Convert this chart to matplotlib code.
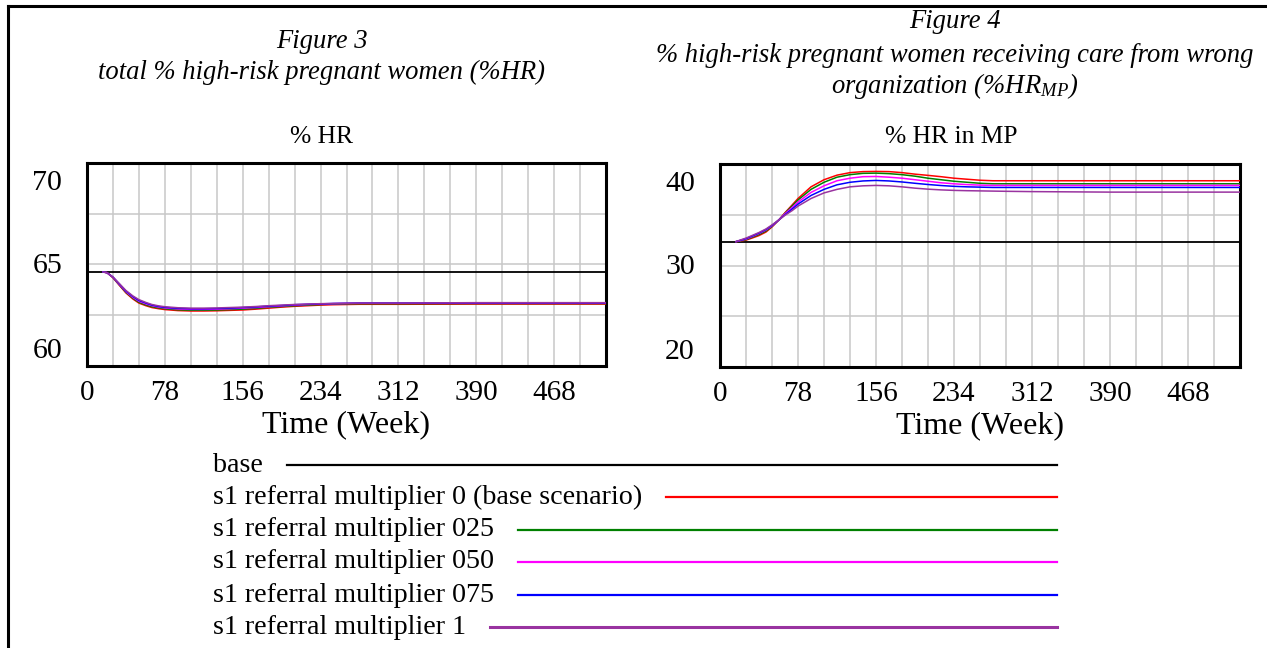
import matplotlib
matplotlib.use("Agg")
import matplotlib.pyplot as plt
from matplotlib.lines import Line2D
from matplotlib.transforms import ScaledTranslation

# ---------------- data ----------------
weeks = [16, 20, 26, 32, 39, 46, 52, 59, 65, 72, 78, 91, 104, 117, 130, 143,
         156, 169, 182, 195, 208, 221, 234, 247, 260, 273, 286, 312, 390, 520]

hr_base = 64.63
hr_s0 = [64.63, 64.60, 64.35, 64.00, 63.60, 63.30, 63.10, 62.97, 62.88, 62.82, 62.78,
         62.73, 62.71, 62.71, 62.72, 62.74, 62.76, 62.80, 62.85, 62.90, 62.94, 62.97,
         63.00, 63.02, 63.03, 63.04, 63.04, 63.04, 63.05, 63.05]
hr_s025 = [64.63, 64.60, 64.36, 64.02, 63.63, 63.34, 63.14, 63.01, 62.92, 62.86, 62.82,
           62.77, 62.75, 62.75, 62.76, 62.78, 62.80, 62.84, 62.89, 62.93, 62.97, 63.00,
           63.03, 63.05, 63.06, 63.07, 63.07, 63.07, 63.08, 63.08]
hr_s050 = [64.63, 64.60, 64.37, 64.04, 63.66, 63.38, 63.19, 63.06, 62.97, 62.90, 62.86,
           62.81, 62.79, 62.79, 62.80, 62.82, 62.85, 62.88, 62.92, 62.96, 63.00, 63.03,
           63.05, 63.07, 63.08, 63.09, 63.09, 63.09, 63.10, 63.10]
hr_s075 = [64.63, 64.60, 64.38, 64.06, 63.69, 63.42, 63.23, 63.10, 63.00, 62.93, 62.89,
           62.84, 62.82, 62.82, 62.83, 62.85, 62.88, 62.91, 62.95, 62.98, 63.02, 63.04,
           63.06, 63.08, 63.09, 63.10, 63.10, 63.10, 63.11, 63.11]
hr_s1 = [64.63, 64.60, 64.38, 64.08, 63.72, 63.45, 63.27, 63.13, 63.03, 62.96, 62.92,
         62.87, 62.85, 62.85, 62.86, 62.88, 62.90, 62.93, 62.97, 63.00, 63.03, 63.05,
         63.07, 63.08, 63.09, 63.10, 63.10, 63.10, 63.12, 63.12]

mp_base = 32.35
mp_s0 = [32.35, 32.40, 32.50, 32.70, 32.95, 33.30, 33.80, 34.50, 35.20, 35.95, 36.60,
         37.75, 38.45, 38.90, 39.15, 39.25, 39.27, 39.25, 39.15, 39.00, 38.88, 38.75,
         38.60, 38.50, 38.40, 38.35, 38.35, 38.35, 38.35, 38.35]
mp_s025 = [32.35, 32.42, 32.55, 32.78, 33.05, 33.40, 33.85, 34.50, 35.15, 35.85, 36.45,
           37.50, 38.20, 38.70, 38.95, 39.08, 39.10, 39.05, 38.95, 38.80, 38.60, 38.45,
           38.30, 38.20, 38.10, 38.05, 38.05, 38.05, 38.05, 38.05]
mp_s050 = [32.35, 32.45, 32.60, 32.85, 33.15, 33.50, 33.90, 34.50, 35.10, 35.70, 36.25,
           37.20, 37.85, 38.35, 38.60, 38.75, 38.77, 38.70, 38.60, 38.45, 38.30, 38.15,
           38.05, 37.97, 37.92, 37.89, 37.89, 37.89, 37.89, 37.89]
mp_s075 = [32.35, 32.47, 32.65, 32.90, 33.20, 33.55, 33.95, 34.50, 35.00, 35.55, 36.05,
           36.90, 37.50, 37.95, 38.20, 38.33, 38.38, 38.33, 38.23, 38.10, 37.98, 37.88,
           37.80, 37.75, 37.72, 37.69, 37.69, 37.69, 37.69, 37.69]
mp_s1 = [32.35, 32.50, 32.70, 32.95, 33.25, 33.60, 34.00, 34.50, 34.95, 35.40, 35.85,
         36.60, 37.15, 37.50, 37.75, 37.85, 37.89, 37.85, 37.75, 37.62, 37.52, 37.45,
         37.40, 37.37, 37.35, 37.33, 37.31, 37.28, 37.23, 37.23]

series_names = ["base",
                "s1 referral multiplier 0 (base scenario)",
                "s1 referral multiplier 025",
                "s1 referral multiplier 050",
                "s1 referral multiplier 075",
                "s1 referral multiplier 1"]
series_colors = ["#000000", "#FF0000", "#008000", "#FF00FF", "#0000FF", "#9933A0"]

x_ticks = [0, 78, 156, 234, 312, 390, 468]
hr_yticks = [60, 65, 70]
mp_yticks = [20, 30, 40]

# ---------------- figure ----------------
W, H = 1267, 648
fig = plt.figure(figsize=(W / 100, H / 100), dpi=100)
fig.patch.set_facecolor("white")
SERIF = ["Liberation Serif", "DejaVu Serif"]
plt.rcParams["mathtext.fontset"] = "custom"
plt.rcParams["mathtext.it"] = "Liberation Serif:italic"
plt.rcParams["mathtext.rm"] = "Liberation Serif"


def fx(px):
    return px / W


def fy(py):
    return 1 - py / H


# page frame (top and left rules)
fig.add_artist(Line2D([fx(8), 1.0], [fy(6), fy(6)], color="black", lw=2.2,
                      transform=fig.transFigure))
fig.add_artist(Line2D([fx(8), fx(8)], [fy(6), 0.0], color="black", lw=2.2,
                      transform=fig.transFigure))

# figure titles
TS = 19.2
fig.text(fx(322), fy(42), "Figure 3", ha="center", va="center", fontsize=TS,
         style="italic", family=SERIF)
fig.text(fx(322), fy(72), "total % high-risk pregnant women (%HR)", ha="center",
         va="center", fontsize=TS, style="italic", family=SERIF)
fig.text(fx(955), fy(22), "Figure 4", ha="center", va="center", fontsize=TS,
         style="italic", family=SERIF)
fig.text(fx(955), fy(55), "% high-risk pregnant women receiving care from wrong",
         ha="center", va="center", fontsize=TS, style="italic", family=SERIF)
fig.text(fx(955), fy(86), "organization (%HR$_{MP}$)", ha="center", va="center",
         fontsize=TS, style="italic", family=SERIF)


def make_panel(left, right, top, bottom, ylim, yticks, base, scen, title, title_x):
    ax = fig.add_axes([fx(left), fy(bottom), fx(right) - fx(left), fy(top) - fy(bottom)])
    ax.set_xlim(0, 520)
    ax.set_ylim(*ylim)
    ax.set_xticks(x_ticks)
    ax.set_xticks(range(0, 521, 26), minor=True)
    step = (ylim[1] - ylim[0]) / 4
    ax.set_yticks([ylim[0] + step * i for i in range(5)], minor=True)
    ax.set_yticks(yticks)
    ax.set_yticklabels([])
    ax.grid(True, which="both", color="#C8C8C8", lw=1.1)
    ax.set_axisbelow(True)
    ax.tick_params(which="both", length=0)
    ax.tick_params(axis="x", pad=10, labelsize=21)
    for lab in ax.get_xticklabels():
        lab.set_fontfamily(SERIF)
    # y labels, Vensim style: top label pulled down, bottom label pulled up
    offsets = [15, -2, -20]  # pixels (up positive)
    for v, off in zip(yticks, offsets):
        tr = ax.get_yaxis_transform() + ScaledTranslation(-25 / 100, off / 100,
                                                          fig.dpi_scale_trans)
        ax.text(0, v, str(v), transform=tr, ha="right", va="center",
                fontsize=21.5, family=SERIF)
    for sp in ax.spines.values():
        sp.set_linewidth(2.2)
        sp.set_color("black")
    ax.axhline(base, color=series_colors[0], lw=1.3, zorder=3)
    for vals, col in zip(scen, series_colors[1:]):
        ax.plot(weeks, vals, color=col, lw=1.1, zorder=4)
    ax.set_xlabel("Time (Week)", family=SERIF, fontsize=23, labelpad=3)
    fig.text(fx(title_x), fy(137), title, ha="center", va="center", fontsize=18.4,
             family=SERIF)
    return ax


make_panel(87, 606, 163, 366, (60, 70), hr_yticks, hr_base,
           [hr_s0, hr_s025, hr_s050, hr_s075, hr_s1], "% HR", 322)
make_panel(720, 1240, 164, 367, (20, 40), mp_yticks, mp_base,
           [mp_s0, mp_s025, mp_s050, mp_s075, mp_s1], "% HR in MP", 951)

# legend (Vensim style: label followed by line)
fig.canvas.draw()
renderer = fig.canvas.get_renderer()
row_y = [465, 497, 530, 562, 595, 627]
for name, col, py in zip(series_names, series_colors, row_y):
    t = fig.text(fx(213), fy(py), name, ha="left", va="center", fontsize=20.2,
                 family=SERIF)
    bb = t.get_window_extent(renderer)
    x0 = bb.x1 + 24
    fig.add_artist(Line2D([x0 / W, fx(1057)], [fy(py), fy(py)], color=col,
                          lw=1.6 if name != "s1 referral multiplier 1" else 2.2,
                          transform=fig.transFigure))

fig.savefig("out.png", dpi=100, facecolor="white")
